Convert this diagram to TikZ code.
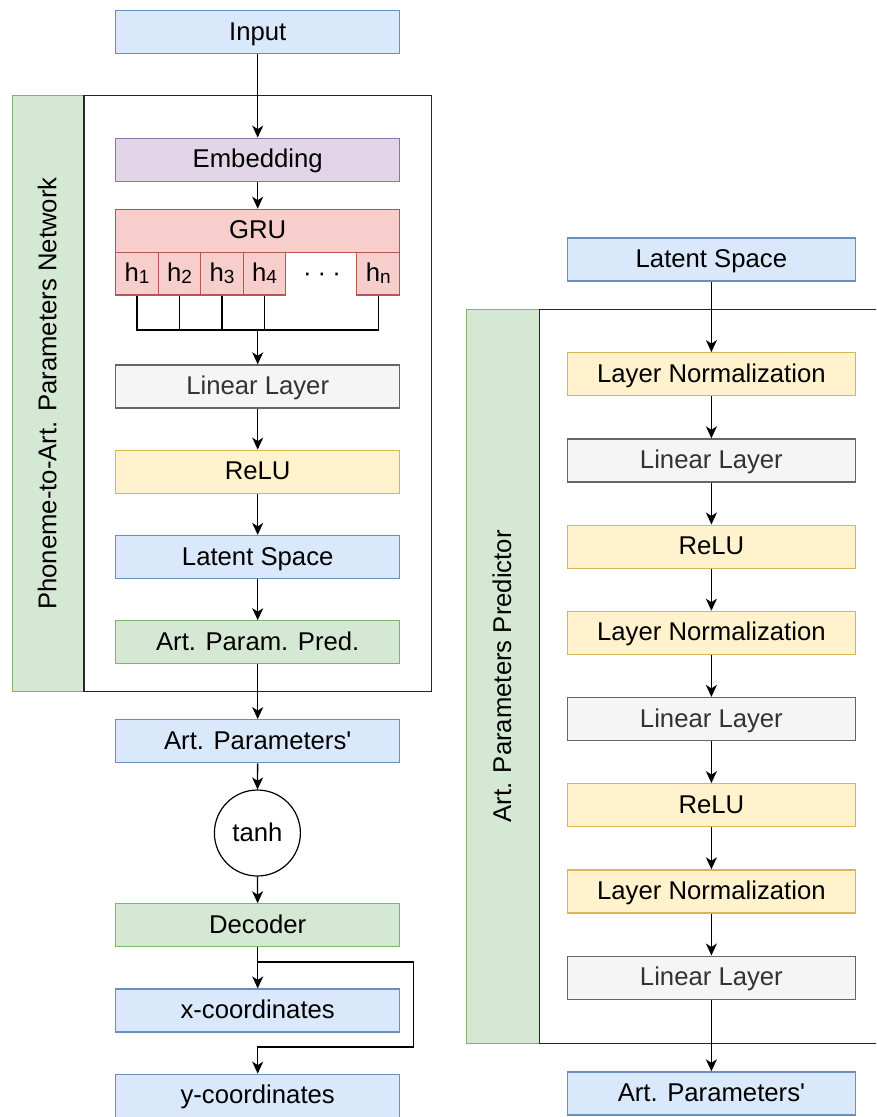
\documentclass[tikz,border=0pt]{standalone}
\usepackage{fontspec}
\setmainfont{Liberation Sans}
\usetikzlibrary{arrows.meta}
\definecolor{bluef}{HTML}{DAE8FC}\definecolor{blued}{HTML}{6C8EBF}
\definecolor{purpf}{HTML}{E1D5E7}\definecolor{purpd}{HTML}{9673A6}
\definecolor{redf}{HTML}{F8CECC}\definecolor{redd}{HTML}{B85450}
\definecolor{grayf}{HTML}{F5F5F5}\definecolor{grayd}{HTML}{666666}\definecolor{grayt}{HTML}{333333}
\definecolor{yelf}{HTML}{FFF2CC}\definecolor{yeld}{HTML}{D6B656}
\definecolor{grnf}{HTML}{D5E8D4}\definecolor{grnd}{HTML}{82B366}
\newcommand{\hsub}[1]{h\raisebox{-2pt}{\fontsize{19}{22}\selectfont #1}}
\begin{document}
\begin{tikzpicture}[x=1pt,y=-1pt,
  txt/.style={font=\fontsize{25.7}{30}\selectfont},
  box/.style={txt,draw,line width=1.2pt,inner sep=0pt,minimum height=43pt,text height=18.4pt,text depth=2.4pt},
  lbox/.style={box,minimum width=284pt},
  rbox/.style={box,minimum width=288pt},
  blue/.style={fill=bluef,draw=blued},
  purp/.style={fill=purpf,draw=purpd},
  red/.style={fill=redf,draw=redd},
  gray/.style={fill=grayf,draw=grayd,text=grayt},
  yel/.style={fill=yelf,draw=yeld},
  grn/.style={fill=grnf,draw=grnd},
  hcell/.style={txt,draw=redd,fill=redf,line width=1.2pt,inner sep=0pt,minimum height=42.7pt,text height=18.4pt,text depth=2.4pt},
  conn/.style={line width=1.3pt,black},
  arr/.style={conn,-{Stealth[length=12pt,width=11pt,inset=3.5pt]}},
  frame/.style={line width=1.3pt,draw=black!85},
  band/.style={line width=1.2pt,fill=grnf,draw=grnd}]
\useasboundingbox (0,0) rectangle (876,1117);
\begin{scope}
\clip (0,0) rectangle (876,1117);
% frames
\draw[band] (12.7,95.7) rectangle (84,691.5);
\draw[frame] (84,95.7) rectangle (431.5,691.5);
\draw[band] (466.7,309.5) rectangle (539.3,1043.3);
\draw[frame] (539.3,309.5) rectangle (900,1043.3);
\node[txt,rotate=90,text height=18.4pt,text depth=2.4pt] (lband) at (48.4,393.6) {Phoneme-to-Art. Parameters Network};
\node[txt,rotate=90,text height=18.4pt,text depth=2.4pt] (rband) at (503,676.4) {Art. Parameters Predictor};

% left column nodes
\node[lbox,blue] (input) at (257.7,32) {Input};
\node[lbox,purp] (emb) at (257.7,159.7) {Embedding};
\node[lbox,red] (gru) at (257.7,230.8) {GRU};
\node[hcell,minimum width=42.6pt] (h1) at (137,273.7) {\hsub{1}};
\node[hcell,minimum width=42.4pt] (h2) at (179.5,273.7) {\hsub{2}};
\node[hcell,minimum width=42.6pt] (h3) at (222,273.7) {\hsub{3}};
\node[hcell,minimum width=42.4pt] (h4) at (264.5,273.7) {\hsub{4}};
\node[hcell,minimum width=43pt] (hn) at (378.2,273.7) {\hsub{n}};
\node[txt,anchor=base,inner sep=0pt] (dots) at (322,281.5) {·\hspace{6pt}·\hspace{6pt}·};
\node[lbox,gray] (lin) at (257.7,386.4) {Linear Layer};
\node[lbox,yel] (relu) at (257.7,471.7) {ReLU};
\node[lbox,blue] (lat) at (257.7,557) {Latent Space};
\node[lbox,grn] (pred) at (257.7,642.3) {Art. Param. Pred.};
\node[lbox,blue] (artp) at (257.7,741.2) {Art. Parameters\textquotesingle};
\node[txt,draw,line width=1.2pt,circle,minimum size=86pt,inner sep=0pt,fill=white,text height=18.4pt,text depth=2.4pt] (tanh) at (257.4,833) {tanh};
\node[lbox,grn] (dec) at (257.7,925.3) {Decoder};
\node[lbox,blue] (xc) at (257.7,1010.5) {x-coordinates};
\node[lbox,blue] (yc) at (257.7,1095.7) {y-coordinates};

% right column nodes
\node[rbox,blue] (rlat) at (711.4,259.5) {Latent Space};
\node[rbox,yel] (ln1) at (711.4,374.2) {Layer Normalization};
\node[rbox,gray] (rl1) at (711.4,460.4) {Linear Layer};
\node[rbox,yel] (rr1) at (711.4,546.6) {ReLU};
\node[rbox,yel] (ln2) at (711.4,632.8) {Layer Normalization};
\node[rbox,gray] (rl2) at (711.4,719) {Linear Layer};
\node[rbox,yel] (rr2) at (711.4,805.2) {ReLU};
\node[rbox,yel] (ln3) at (711.4,891.4) {Layer Normalization};
\node[rbox,gray] (rl3) at (711.4,977.6) {Linear Layer};
\node[rbox,blue] (rout) at (711.4,1093.4) {Art. Parameters\textquotesingle};

% left connectors
\draw[arr] (input) -- (emb);
\draw[arr] (emb) -- (gru);
\coordinate (bus) at (257.7,330);
\draw[conn] (h1.south) -- (h1.south |- bus) -- (hn.south |- bus) -- (hn.south);
\draw[conn] (h2.south) -- (h2.south |- bus);
\draw[conn] (h3.south) -- (h3.south |- bus);
\draw[conn] (h4.south) -- (h4.south |- bus);
\draw[arr] (bus) -- (lin.north);
\draw[arr] (lin) -- (relu);
\draw[arr] (relu) -- (lat);
\draw[arr] (lat) -- (pred);
\draw[arr] (pred) -- (artp);
\draw[arr] (artp) -- (tanh);
\draw[arr] (tanh) -- (dec);
\draw[arr] (dec) -- (xc);
\draw[arr] (dec.south) ++(0,14.5) -| ++(156,85) -| (yc.north);

% right connectors
\draw[arr] (rlat) -- (ln1);
\draw[arr] (ln1) -- (rl1);
\draw[arr] (rl1) -- (rr1);
\draw[arr] (rr1) -- (ln2);
\draw[arr] (ln2) -- (rl2);
\draw[arr] (rl2) -- (rr2);
\draw[arr] (rr2) -- (ln3);
\draw[arr] (ln3) -- (rl3);
\draw[arr] (rl3) -- (rout);
\end{scope}
\end{tikzpicture}
\end{document}
